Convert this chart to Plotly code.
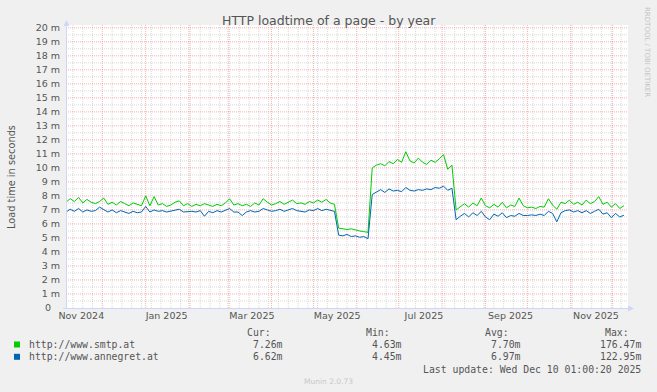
import plotly.graph_objects as go
import pandas as pd

# ---------------- data ----------------
dates = pd.date_range("2024-11-05 01:00", periods=134, freq="3D")

smtp = [
    7.55, 7.80, 7.60, 7.90, 7.50, 7.75, 7.55, 7.45, 7.60, 7.85,
    7.40, 7.55, 7.35, 7.60, 7.45, 7.30, 7.50, 7.40, 7.30, 8.00,
    7.30, 7.95, 7.35, 7.45, 7.25, 7.35, 7.55, 7.65, 7.30, 7.45,
    7.25, 7.40, 7.30, 7.45, 7.35, 7.25, 7.40, 7.30, 7.50, 7.80,
    7.35, 7.45, 7.30, 7.40, 7.25, 7.50, 7.35, 7.80, 7.55, 7.35,
    7.45, 7.60, 7.40, 7.55, 7.70, 7.45, 7.50, 7.40, 7.60, 7.50,
    7.70, 7.55, 7.75, 7.50, 7.40,
    5.70, 5.65, 5.60, 5.65, 5.55, 5.50, 5.45, 5.40,
    10.00, 10.20, 10.30, 10.15, 10.45, 10.30, 10.60, 10.40, 11.15, 10.50,
    10.35, 10.70, 10.40, 10.25, 10.55, 10.40, 10.65, 10.95, 9.90, 10.20,
    7.00, 7.25, 7.45, 7.20, 7.50, 7.30, 7.85, 7.30, 7.15, 7.40,
    7.20, 7.55, 7.15, 7.35, 7.25, 7.85, 7.30, 7.15, 7.20, 7.10,
    7.25, 7.20, 7.80, 7.35, 7.05, 7.55, 7.45, 7.70, 7.40, 7.55,
    7.35, 7.70, 7.45, 7.60, 7.95, 7.40, 7.55, 7.20, 7.45, 7.10,
    7.30,
]

annegret = [
    6.85, 7.05, 6.90, 7.10, 6.85, 7.00, 6.90, 6.95, 7.20, 7.05,
    6.85, 7.00, 6.80, 6.95, 6.85, 6.75, 6.90, 6.80, 6.85, 7.25,
    6.85, 7.00, 6.90, 6.95, 6.85, 6.90, 7.00, 7.05, 6.85, 6.90,
    6.90, 6.85, 6.95, 6.55, 6.90, 6.80, 6.95, 6.85, 6.95, 7.10,
    6.85, 6.85, 6.60, 6.85, 6.95, 6.85, 6.90, 7.10, 7.00, 6.90,
    6.95, 7.05, 6.90, 7.00, 7.10, 6.95, 6.90, 6.85, 7.00, 6.95,
    7.10, 6.95, 7.05, 6.95, 6.90,
    5.20, 5.15, 5.25, 5.10, 5.15, 5.05, 5.10, 4.95,
    8.10, 8.30, 8.45, 8.25, 8.50, 8.35, 8.40, 8.30, 8.60, 8.40,
    8.35, 8.45, 8.40, 8.50, 8.45, 8.60, 8.55, 8.70, 8.40, 8.55,
    6.30, 6.55, 6.75, 6.50, 6.80, 6.60, 6.90, 6.50, 6.30, 6.70,
    6.55, 6.80, 6.45, 6.60, 6.55, 6.75, 6.60, 6.60, 6.65, 6.60,
    6.70, 6.60, 6.90, 6.75, 6.15, 6.80, 6.95, 7.00, 6.85, 6.95,
    6.80, 6.95, 6.75, 6.90, 7.05, 6.70, 6.80, 6.45, 6.75, 6.50,
    6.62,
]

series_names = ["http://www.smtp.at", "http://www.annegret.at"]
series_colors = ["#00CC00", "#0066B3"]
cur_vals = ["7.26m", "6.62m"]
min_vals = ["4.63m", "4.45m"]
avg_vals = ["7.70m", "6.97m"]
max_vals = ["176.47m", "122.95m"]

y_tick_vals = list(range(0, 21))
y_tick_text = ["0&nbsp;&nbsp;&nbsp;"] + [f"{i} m" for i in range(1, 21)]

x_label_dates = ["2024-11-16", "2025-01-16", "2025-03-18", "2025-05-18",
                 "2025-07-19", "2025-09-19", "2025-11-19"]
x_label_text = ["Nov 2024", "Jan 2025", "Mar 2025", "May 2025",
                "Jul 2025", "Sep 2025", "Nov 2025"]

title_text = "HTTP loadtime of a page - by year"
y_title = "Load time in seconds"
last_update = "Last update: Wed Dec 10 01:00:20 2025"

# ---------------- layout geometry ----------------
W, H = 657, 392
L, R, T, B = 66, 29, 25, 84
PW, PH = W - L - R, H - T - B
x_start = pd.Timestamp("2024-11-05 01:00")
x_end = x_start + pd.Timedelta(days=PW / 1.3983)


def px(x):
    return (x - L) / PW


def py(y):
    return (H - B - y) / PH


FONT = "DejaVu Sans"
MONO = "DejaVu Sans Mono"
TXT = "#555555"

fig = go.Figure()
for name, vals, col in zip(series_names, [smtp, annegret], series_colors):
    fig.add_trace(go.Scatter(x=dates, y=vals, mode="lines", name=name,
                             line=dict(color=col, width=1), hoverinfo="skip"))

GRAY = "rgba(170,170,170,0.45)"
RED = "rgba(240,110,110,0.55)"
shapes = []
# weekly minor grid (gray)
for d in pd.date_range("2024-11-10", "2025-12-10", freq="7D"):
    if d.day == 1:
        continue
    shapes.append(dict(type="line", xref="x", yref="paper", x0=d, x1=d, y0=0, y1=1,
                       line=dict(color=GRAY, width=1, dash="1px,1px"), layer="below"))
# half-unit minor horizontal grid
for v in [i + 0.5 for i in range(20)]:
    shapes.append(dict(type="line", xref="paper", yref="y", x0=0, x1=1, y0=v, y1=v,
                       line=dict(color=GRAY, width=1, dash="1px,1px"), layer="below"))
# monthly major grid (red)
for d in pd.date_range("2024-12-01", "2025-12-01", freq="MS"):
    shapes.append(dict(type="line", xref="x", yref="paper", x0=d, x1=d, y0=0, y1=1,
                       line=dict(color=RED, width=1, dash="1px,1px"), layer="below"))
for v in range(1, 21):
    shapes.append(dict(type="line", xref="paper", yref="y", x0=0, x1=1, y0=v, y1=v,
                       line=dict(color=RED, width=1, dash="1px,1px"), layer="below"))

AX = "#CFD6F8"
# axes with arrows
shapes.append(dict(type="line", xref="paper", yref="paper", x0=px(66.5), x1=px(66.5),
                   y0=py(308.5), y1=py(24), line=dict(color=AX, width=1)))
shapes.append(dict(type="line", xref="paper", yref="paper", x0=px(63), x1=px(630),
                   y0=py(308.5), y1=py(308.5), line=dict(color=AX, width=1)))
shapes.append(dict(type="path", xref="paper", yref="paper",
                   path=f"M {px(63.5)} {py(26)} L {px(69.5)} {py(26)} L {px(66.5)} {py(20)} Z",
                   fillcolor=AX, line=dict(color=AX, width=0)))
shapes.append(dict(type="path", xref="paper", yref="paper",
                   path=f"M {px(628)} {py(305.5)} L {px(628)} {py(311.5)} L {px(634)} {py(308.5)} Z",
                   fillcolor=AX, line=dict(color=AX, width=0)))

# legend squares
for i, col in enumerate(series_colors):
    yc = 344.5 + 12.3 * i
    shapes.append(dict(type="rect", xref="paper", yref="paper",
                       x0=px(14), x1=px(20), y0=py(yc - 3), y1=py(yc + 3),
                       fillcolor=col, line=dict(width=0)))

ann = []


def text(x, y, s, size, font=FONT, color=TXT, xanchor="center", angle=0):
    ann.append(dict(x=px(x), y=py(y), xref="paper", yref="paper", text=s,
                    showarrow=False, xanchor=xanchor, yanchor="middle",
                    textangle=angle, font=dict(family=font, size=size, color=color)))


text(328.5, 20, title_text, 12.5)
text(11, 177, y_title, 9.8, angle=-90)
text(647, 52, "RRDTOOL / TOBI OETIKER", 7, color="#C4C4C4", angle=90)
text(328, 381, "Munin 2.0.73", 7.5, color="#C8C8C8")

MS = 9.8
text(272.5, 332.5, "Cur:", MS, MONO, xanchor="right")
text(391.5, 332.5, "Min:", MS, MONO, xanchor="right")
text(510.5, 332.5, "Avg:", MS, MONO, xanchor="right")
text(630.5, 332.5, "Max:", MS, MONO, xanchor="right")
for i in range(2):
    yc = 344.5 + 12.3 * i
    text(26.5, yc, series_names[i], MS, MONO, xanchor="left")
    text(284.5, yc, cur_vals[i], MS, MONO, xanchor="right")
    text(404, yc, min_vals[i], MS, MONO, xanchor="right")
    text(523, yc, avg_vals[i], MS, MONO, xanchor="right")
    text(643, yc, max_vals[i], MS, MONO, xanchor="right")
text(643, 369, last_update, MS, MONO, xanchor="right")

fig.update_layout(
    width=W, height=H,
    margin=dict(l=L, r=R, t=T, b=B, pad=0),
    paper_bgcolor="#F0F0F0", plot_bgcolor="#FFFFFF",
    showlegend=False, hovermode=False,
    shapes=shapes, annotations=ann,
    font=dict(family=FONT, color=TXT),
    xaxis=dict(type="date", range=[x_start, x_end], showgrid=False, zeroline=False,
               showline=False, tickvals=pd.to_datetime(x_label_dates), ticktext=x_label_text,
               ticks="", tickfont=dict(size=9.5, color=TXT, family=FONT), fixedrange=True),
    yaxis=dict(range=[0, 20.2], showgrid=False, zeroline=False, showline=False,
               tickvals=y_tick_vals, ticktext=y_tick_text, ticks="",
               ticklabelstandoff=5,
               tickfont=dict(size=9.5, color=TXT, family=FONT), fixedrange=True),
)

fig.write_html("out.html", config={"displayModeBar": False})
